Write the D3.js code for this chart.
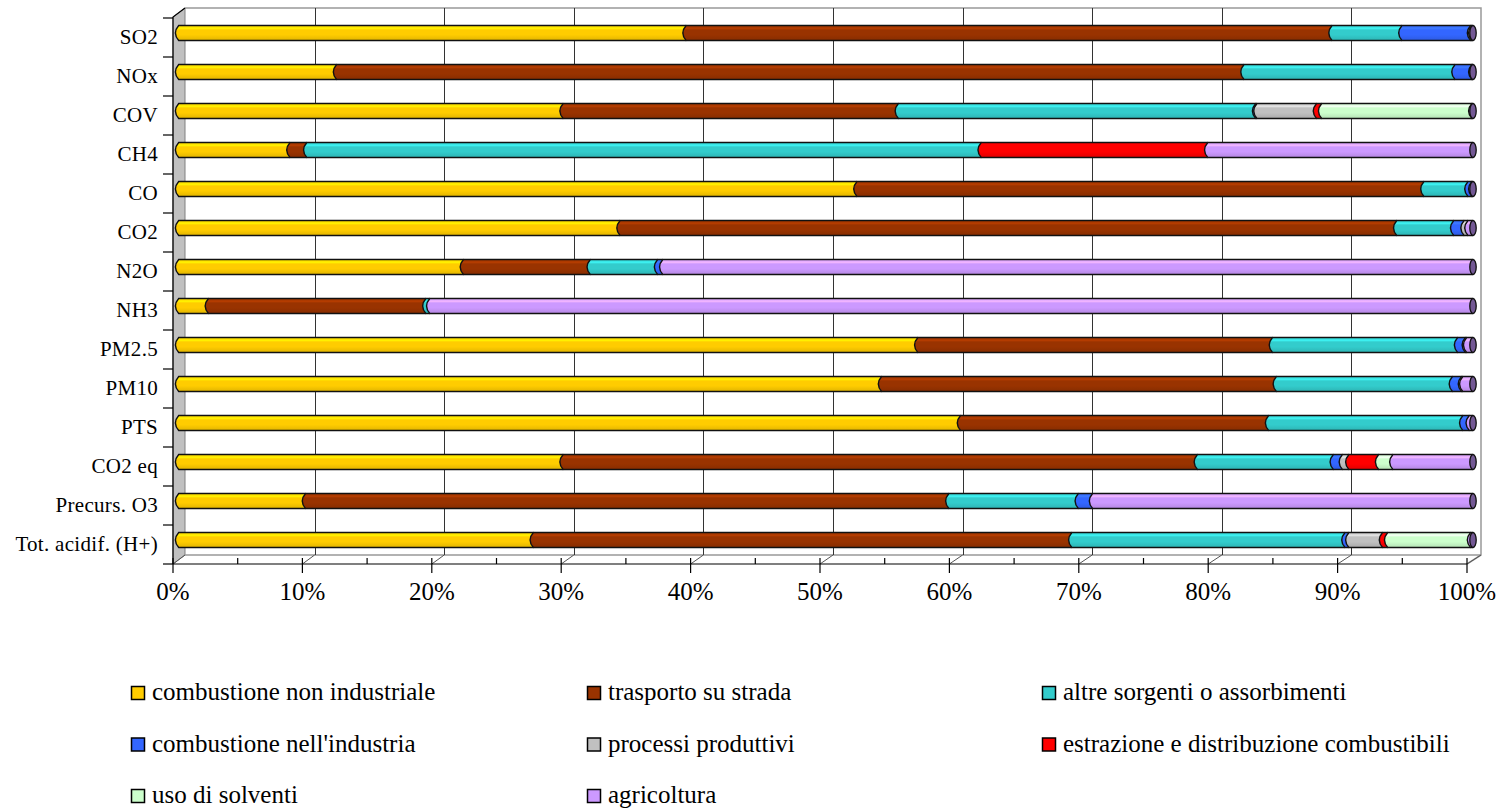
<!DOCTYPE html>
<html>
<head>
<meta charset="utf-8">
<script src="https://cdn.jsdelivr.net/npm/d3@7"></script>
<style>
  html, body { margin: 0; padding: 0; background: #fff; }
  svg { display: block; }
</style>
</head>
<body>
<svg id="chart" width="1504" height="811"></svg>
<script>
// ---------- data ----------
const categories = ["SO2", "NOx", "COV", "CH4", "CO", "CO2", "N2O", "NH3", "PM2.5", "PM10", "PTS", "CO2 eq", "Precurs. O3", "Tot. acidif. (H+)"];
const seriesNames = ["combustione non industriale", "trasporto su strada", "altre sorgenti o assorbimenti",
  "combustione nell'industria", "processi produttivi", "estrazione e distribuzione combustibili",
  "uso di solventi", "agricoltura"];
const seriesColors = ["#FFCC00", "#993300", "#33CCCC", "#3366FF", "#C0C0C0", "#FF0000", "#CCFFCC", "#CC99FF"];

// percentages per category, one array per series (order = categories)
const combNonInd  = [39.2, 12.2, 29.7,  8.6, 52.4, 34.1, 22.0,  2.3, 57.1, 54.3, 60.4, 29.7,  9.8, 27.4];
const trasporto   = [49.9, 70.1, 25.9,  1.3, 43.8, 60.0,  9.8, 16.8, 27.4, 30.5, 23.8, 49.0, 49.7, 41.6];
const altre       = [ 5.4, 16.3, 27.6, 52.1,  3.4,  4.4,  5.2,  0.3, 14.3, 13.6, 15.0, 10.5, 10.0, 21.1];
const combInd     = [ 5.3,  1.3,  0.1,  0.0,  0.3,  0.8,  0.4,  0.0,  0.6,  0.7,  0.5,  0.7,  1.1,  0.3];
const processi    = [ 0.1,  0.05, 4.6,  0.0,  0.0,  0.3,  0.0,  0.0,  0.1,  0.1,  0.0,  0.5,  0.0,  2.6];
const estrazione  = [ 0.0,  0.0,  0.4, 17.5,  0.0,  0.0,  0.0,  0.0,  0.0,  0.0,  0.0,  2.3,  0.0,  0.4];
const solventi    = [ 0.0,  0.0, 11.6,  0.0,  0.0,  0.0,  0.0,  0.0,  0.0,  0.0,  0.0,  1.1,  0.0,  6.4];
const agricoltura = [ 0.1,  0.05, 0.1, 20.5,  0.1,  0.4, 62.6, 80.6,  0.5,  0.8,  0.3,  6.2, 29.4,  0.2];
const seriesValues = [combNonInd, trasporto, altre, combInd, processi, estrazione, solventi, agricoltura];
const tickValues = [0, 10, 20, 30, 40, 50, 60, 70, 80, 90, 100];
const tickLabels = ["0%", "10%", "20%", "30%", "40%", "50%", "60%", "70%", "80%", "90%", "100%"];

const FONT = "'Liberation Serif', 'Times New Roman', Tinos, 'DejaVu Serif', serif";

// ---------- build table ----------
const table = categories.map((c, i) => {
  const row = { cat: c };
  seriesNames.forEach((s, j) => row[s] = seriesValues[j][i]);
  return row;
});
const stacked = d3.stack().keys(seriesNames)(table);

const svg = d3.select("#chart");
const defs = svg.append("defs");

// ---------- geometry ----------
const DX = 12, DY = -9;               // 3D depth offset
const frontLeft = 173, frontRight = 1467, frontBottom = 564, frontTop = 17;
const xFront = d3.scaleLinear().domain([0, 100]).range([frontLeft, frontRight]);
const xBack = d3.scaleLinear().domain([0, 100]).range([frontLeft + DX, frontRight + DX + 2]);
const xBar = d3.scaleLinear().domain([0, 100]).range([176.5, 1471]);
const y = d3.scaleBand().domain(categories).range([18, 564]).padding(0);
const barH = 15;
const barY = c => y(c) + (y.bandwidth() - barH) / 2 - 4.5;

// ---------- walls ----------
const g = svg.append("g");
g.append("polygon")
  .attr("points", [[frontLeft, frontTop], [frontLeft + DX, frontTop + DY], [frontLeft + DX, frontBottom + DY], [frontLeft, frontBottom]].join(" "))
  .attr("fill", "#C0C0C0").attr("stroke", "#808080").attr("stroke-width", 1);
g.append("path")
  .attr("d", `M${frontLeft + DX},${frontTop + DY} L${xBack(100)},${frontTop + DY} L${xBack(100)},${frontBottom + DY} L${frontRight},${frontBottom}`)
  .attr("fill", "none").attr("stroke", "#999").attr("stroke-width", 1.5);
g.append("line")
  .attr("x1", frontLeft + DX).attr("x2", xBack(100))
  .attr("y1", frontBottom + DY).attr("y2", frontBottom + DY)
  .attr("stroke", "#999").attr("stroke-width", 1.5);
g.selectAll(".grid").data(tickValues.filter(v => v > 0 && v < 100)).enter().append("line")
  .attr("x1", d => Math.round(xBack(d)) + 0.5).attr("x2", d => Math.round(xBack(d)) + 0.5)
  .attr("y1", frontTop + DY).attr("y2", frontBottom + DY)
  .attr("stroke", "#333").attr("stroke-width", 1);
g.selectAll(".diag").data(tickValues).enter().append("line")
  .attr("x1", d => xFront(d)).attr("y1", frontBottom)
  .attr("x2", d => xBack(d)).attr("y2", frontBottom + DY)
  .attr("stroke", "#555").attr("stroke-width", 1);

// ---------- bars ----------
seriesNames.forEach((s, j) => {
  const base = d3.color(seriesColors[j]);
  const grad = defs.append("linearGradient").attr("id", "grad" + j)
    .attr("x1", 0).attr("y1", 0).attr("x2", 0).attr("y2", 1);
  grad.append("stop").attr("offset", "0%").attr("stop-color", base.brighter(0.15).formatHex());
  grad.append("stop").attr("offset", "20%").attr("stop-color", base.brighter(0.45).formatHex());
  grad.append("stop").attr("offset", "30%").attr("stop-color", base.formatHex());
  grad.append("stop").attr("offset", "62%").attr("stop-color", base.formatHex());
  grad.append("stop").attr("offset", "100%").attr("stop-color", base.darker(0.35).formatHex());
});

const bars = svg.append("g");
const bulge = 2.2;
stacked.forEach((layer, j) => {
  layer.forEach((d, i) => {
    if (d[1] - d[0] <= 0) return;
    const c = categories[i];
    const x0 = xBar(d[0]), x1 = xBar(d[1]);
    const top = barY(c), bot = top + barH, mid = (top + bot) / 2;
    bars.append("path")
      .attr("d", `M${x0 + bulge},${top} L${x1 + bulge},${top} Q${x1 - bulge * 2},${mid} ${x1 + bulge},${bot} L${x0 + bulge},${bot} Q${x0 - bulge * 2},${mid} ${x0 + bulge},${top} Z`)
      .attr("fill", `url(#grad${j})`);
    bars.append("path")
      .attr("d", `M${x1 + bulge},${top} L${x0 + bulge},${top} Q${x0 - bulge * 2},${mid} ${x0 + bulge},${bot} L${x1 + bulge},${bot}`)
      .attr("fill", "none").attr("stroke", "#111").attr("stroke-width", 1.4);
  });
});
bars.selectAll(".cap").data(categories).enter().append("ellipse")
  .attr("cx", xBar(100) + 2).attr("cy", d => barY(d) + barH / 2)
  .attr("rx", 3.2).attr("ry", barH / 2)
  .attr("fill", "#735894").attr("stroke", "#111").attr("stroke-width", 1.3);

// ---------- axes ----------
const ax = svg.append("g");
ax.append("path")
  .attr("d", `M${frontLeft + DX},${frontTop + DY} L${frontLeft},${frontTop} L${frontLeft},${frontBottom}`)
  .attr("fill", "none").attr("stroke", "#000").attr("stroke-width", 1.2);
ax.selectAll(".ctick").data(d3.range(categories.length + 1)).enter().append("line")
  .attr("x1", frontLeft - 10).attr("x2", frontLeft)
  .attr("y1", i => 18 + i * y.bandwidth()).attr("y2", i => 18 + i * y.bandwidth())
  .attr("stroke", "#000").attr("stroke-width", 1.2);
ax.selectAll(".clabel").data(categories).enter().append("text")
  .attr("x", 158).attr("y", d => y(d) + y.bandwidth() / 2 + 6)
  .attr("text-anchor", "end").attr("font-size", 21).attr("letter-spacing", 0.3).attr("font-family", FONT)
  .text(d => d);
ax.append("line").attr("x1", frontLeft).attr("x2", frontRight)
  .attr("y1", frontBottom).attr("y2", frontBottom).attr("stroke", "#000").attr("stroke-width", 1.2);
ax.selectAll(".mtick").data(tickValues).enter().append("line")
  .attr("x1", d => xFront(d)).attr("x2", d => xFront(d))
  .attr("y1", frontBottom - 6).attr("y2", frontBottom + 9)
  .attr("stroke", "#000").attr("stroke-width", 1.2);
ax.selectAll(".ntick").data(d3.range(5, 100, 10)).enter().append("line")
  .attr("x1", d => xFront(d)).attr("x2", d => xFront(d))
  .attr("y1", frontBottom - 6).attr("y2", frontBottom)
  .attr("stroke", "#000").attr("stroke-width", 1.2);
ax.selectAll(".tlabel").data(tickValues).enter().append("text")
  .attr("x", d => xFront(d)).attr("y", 600)
  .attr("text-anchor", "middle").attr("font-size", 25).attr("font-family", FONT)
  .text((d, i) => tickLabels[i]);

// ---------- legend ----------
const legCols = [131, 587, 1042];
const legRows = [693, 744.5, 796];
const leg = svg.append("g");
seriesNames.forEach((s, j) => {
  const cx = legCols[j % 3], cy = legRows[Math.floor(j / 3)];
  leg.append("rect").attr("x", cx + 0.5).attr("y", cy - 6.5).attr("width", 13).attr("height", 13)
    .attr("fill", seriesColors[j]).attr("stroke", "#000").attr("stroke-width", 1.5);
  leg.append("text").attr("x", cx + 21).attr("y", cy + 7).attr("font-size", 25).attr("font-family", FONT).text(s);
});
</script>
</body>
</html>
